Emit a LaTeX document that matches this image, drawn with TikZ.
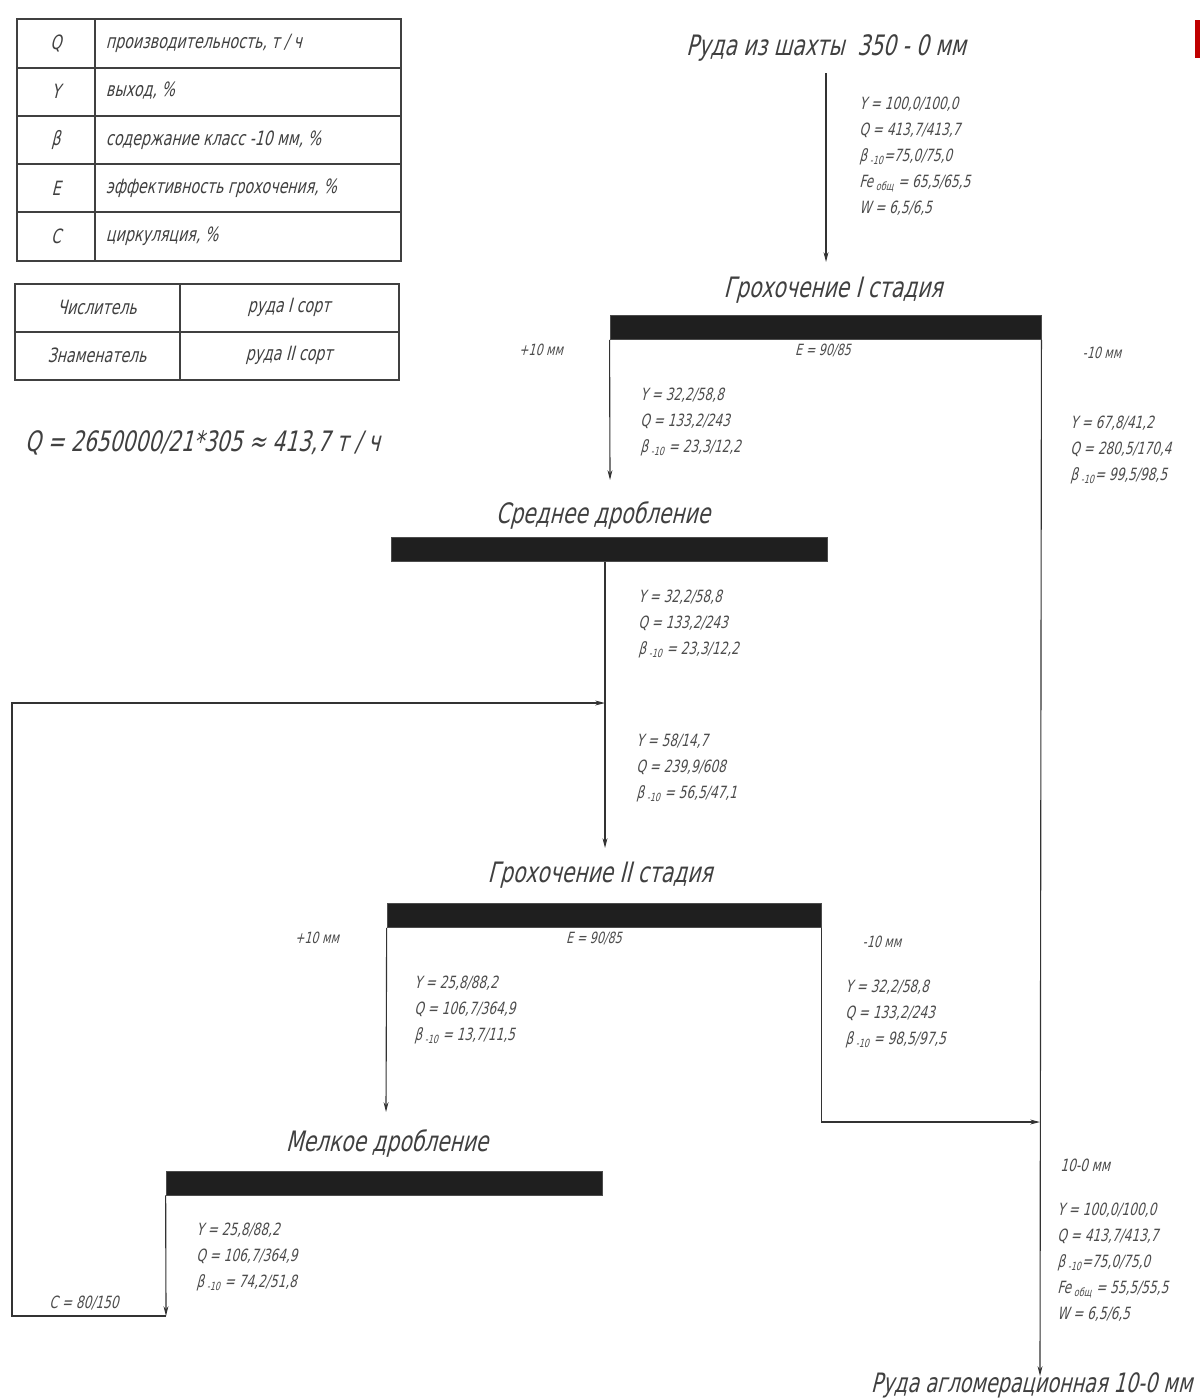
\documentclass[tikz,border=0pt]{standalone}
\usepackage{fontspec}
\setmainfont{DejaVu Sans}
\newfontfamily\gost{DejaVu Sans}[FakeSlant=0.25,FakeStretch=0.72]
\usetikzlibrary{arrows.meta}
\newcommand{\bten}{β\,\textsubscript{-10}}
\newcommand{\feob}{Fe\,\textsubscript{общ}}
\tikzset{
  flow/.style={draw=black!80, line width=0.8pt, -{Stealth[length=7pt,width=3.5pt]}},
  bar/.style={fill=black!88, draw=black!70, inner sep=0pt, minimum height=0.6cm},
  ttl/.style={text=black!75, font=\gost\fontsize{20}{23}\selectfont},
  data/.style={text=black!70, align=left, anchor=north west, inner sep=0pt, font=\gost\fontsize{12}{18.4}\selectfont},
  lbl/.style={text=black!70, font=\gost\fontsize{11}{13}\selectfont},
  cell/.style={text=black!75, font=\gost\fontsize{14}{16}\selectfont},
}
\begin{document}
\begin{tikzpicture}[x=0.025cm, y=-0.025cm]
\useasboundingbox (0,0) rectangle (1200,1400);
\fill[red!75!black] (1195,20) rectangle (1200,58);
% legend tables
\draw[black!75, line width=0.8pt] (17,19) rectangle (401,261);
\foreach \yy in {68,116,164,212} \draw[black!75, line width=0.8pt] (17,\yy) -- (401,\yy);
\draw[black!75, line width=0.8pt] (95,19) -- (95,261);
\node[cell] (sq) at (56,43) {Q};
\node[cell] (sy) at (56,91) {Y};
\node[cell] (sb) at (56,140) {β};
\node[cell] (se) at (56,188) {E};
\node[cell] (sc) at (56,236) {C};
\node[cell, anchor=west] (tq) at (101,43) {производительность, т / ч};
\node[cell, anchor=west] (ty) at (101,91) {выход, \%};
\node[cell, anchor=west] (tb) at (101,140) {содержание класс -10 мм, \%};
\node[cell, anchor=west] (te) at (101,188) {эффективность грохочения, \%};
\node[cell, anchor=west] (tc) at (101,236) {циркуляция, \%};
\draw[black!75, line width=0.8pt] (15,284) rectangle (399,380);
\draw[black!75, line width=0.8pt] (15,332) -- (399,332);
\draw[black!75, line width=0.8pt] (180,284) -- (180,380);
\node[cell] (num) at (97,307) {Числитель};
\node[cell] (den) at (97,355) {Знаменатель};
\node[cell] (s1) at (289,307) {руда I сорт};
\node[cell] (s2) at (289,355) {руда II сорт};
\node[ttl, anchor=west] (qf) at (20,443) {Q = 2650000/21*305 ≈ 413,7 т / ч};
% flowsheet
\node[ttl] (ore) at (826,48) {Руда из шахты \ 350 - 0 мм};
\node[ttl] (g1t) at (833,290) {Грохочение I стадия};
\node[bar, minimum width=10.78cm] (bar1) at (825.5,327.5) {};
\node[lbl] (e1) at (823,350) {E = 90/85};
\node[lbl] (p1) at (541,350) {+10 мм};
\node[lbl] (m1) at (1102,353) {-10 мм};
\node[ttl] (s2t) at (603,515) {Среднее дробление};
\node[bar, minimum width=10.9cm] (bar2) at (609,549.5) {};
\node[ttl] (g2t) at (600,875) {Грохочение II стадия};
\node[bar, minimum width=10.85cm] (bar3) at (604,915.5) {};
\node[lbl] (e2) at (594,938) {E = 90/85};
\node[lbl] (p2) at (317,938) {+10 мм};
\node[lbl] (m2) at (882,942) {-10 мм};
\node[ttl] (m3t) at (387,1143) {Мелкое дробление};
\node[bar, minimum width=10.9cm] (bar4) at (384,1183) {};
\node[data, anchor=center] (circ) at (84,1303) {C = 80/150};
\node[data, anchor=west] (fr) at (1060,1165) {10-0 мм};
\node[ttl, anchor=west, font=\gost\fontsize{19}{22}\selectfont] (agl) at (866,1385) {Руда агломерационная 10-0 мм};
\node[data] (d0) at (859,97) {Y = 100,0/100,0\\Q = 413,7/413,7\\\bten=75,0/75,0\\\feob{} = 65,5/65,5\\W = 6,5/6,5};
\node[data] (d1) at (640,388) {Y = 32,2/58,8\\Q = 133,2/243\\\bten{} = 23,3/12,2};
\node[data] (d2) at (1070,416) {Y = 67,8/41,2\\Q = 280,5/170,4\\\bten= 99,5/98,5};
\node[data] (d3) at (638,590) {Y = 32,2/58,8\\Q = 133,2/243\\\bten{} = 23,3/12,2};
\node[data] (d4) at (636,734) {Y = 58/14,7\\Q = 239,9/608\\\bten{} = 56,5/47,1};
\node[data] (d5) at (414,976) {Y = 25,8/88,2\\Q = 106,7/364,9\\\bten{} = 13,7/11,5};
\node[data] (d6) at (845,980) {Y = 32,2/58,8\\Q = 133,2/243\\\bten{} = 98,5/97,5};
\node[data] (d7) at (196,1223) {Y = 25,8/88,2\\Q = 106,7/364,9\\\bten{} = 74,2/51,8};
\node[data] (d8) at (1057,1203) {Y = 100,0/100,0\\Q = 413,7/413,7\\\bten=75,0/75,0\\\feob{} = 55,5/55,5\\W = 6,5/6,5};
\coordinate (a1) at (826,262);
\coordinate (a2) at (610,480);
\coordinate (out) at (1040,1376);
\coordinate (a3) at (605,848);
\coordinate (j1) at (605,703);
\coordinate (a4) at (386,1112);
\coordinate (j2) at (1040,1122);
\coordinate (c1) at (166,1316);
\coordinate (c2) at (12,1316);
\draw[flow, shorten <=5pt] (ore.south) -- (a1);
\draw[flow] (bar1.south west) -- (a2);
\draw[flow] (bar1.south east) -- (out);
\draw[flow] (bar2.south -| a3) -- (a3);
\draw[flow] (bar3.south west) -- (a4);
\draw[flow] (bar3.south east) |- (j2);
\draw[flow] (bar4.south west) -- (c1);
\draw[flow] (c1) -- (c2) |- (j1);
\end{tikzpicture}
\end{document}
